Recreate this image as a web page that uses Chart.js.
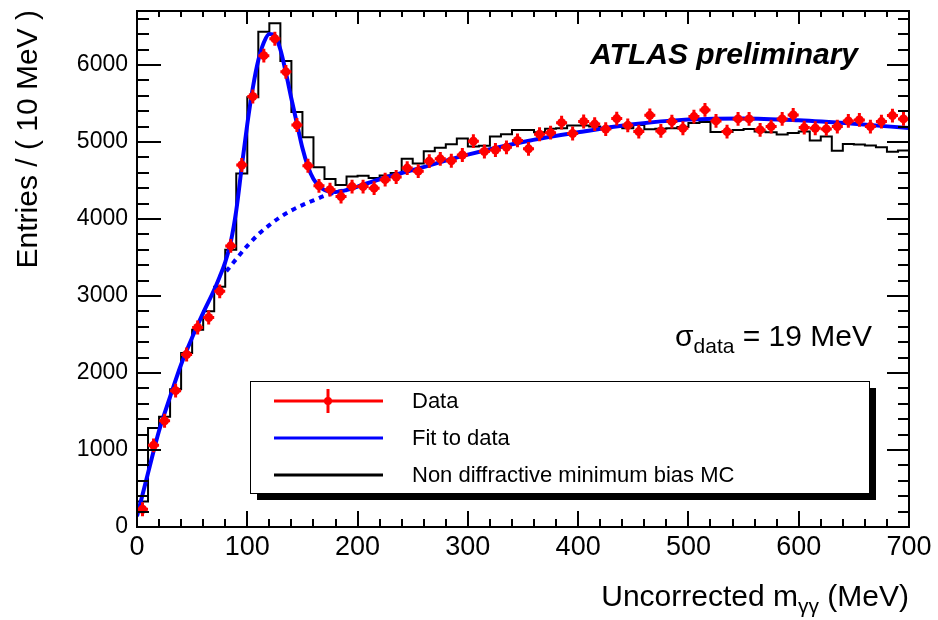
<!DOCTYPE html>
<html><head><meta charset="utf-8">
<script src="https://cdn.jsdelivr.net/npm/chart.js@4/dist/chart.umd.min.js"></script>
<style>html,body{margin:0;padding:0;background:#fff;}#wrap{width:938px;height:620px;}</style>
</head><body><div id="wrap"><canvas id="c" width="938" height="620"></canvas></div>
<script>
// ---------- DATA ----------
const binCenters = [5,15,25,35,45,55,65,75,85,95,105,115,125,135,145,155,165,175,185,195,
  205,215,225,235,245,255,265,275,285,295,305,315,325,335,345,355,365,375,385,395,
  405,415,425,435,445,455,465,475,485,495,505,515,525,535,545,555,565,575,585,595,
  605,615,625,635,645,655,665,675,685,695];
const binHalfWidth = 5;
const dataCounts = [230,1060,1380,1770,2240,2590,2720,3060,3650,4700,5590,6120,6340,5910,5220,4690,4430,4380,4290,4420,
  4420,4400,4510,4545,4660,4620,4750,4780,4755,4830,5010,4875,4895,4930,5020,4910,5100,5120,5250,5110,
  5265,5232,5167,5303,5215,5134,5345,5143,5264,5178,5329,5416,5273,5134,5299,5299,5156,5199,5299,5351,
  5186,5178,5169,5199,5273,5286,5199,5264,5342,5299];
const dataErrY = 90;
const mcCounts = [330,1285,1430,1790,2260,2560,2800,3120,3600,4590,5580,6430,6540,6050,5390,5060,4670,4520,4440,4550,
  4560,4530,4565,4595,4780,4720,4880,4925,4970,5045,4940,4950,5070,5100,5155,5155,5125,5170,5178,5212,
  5212,5199,5178,5199,5178,5221,5165,5170,5178,5195,5245,5258,5130,5130,5155,5167,5135,5126,5095,5117,
  5134,5020,5069,4885,4972,4965,4955,4932,4874,4890];
const fitMass   = [0,5,10,20,30,40,50,60,70,75,80,85,90,95,100,105,110,115,120,125,130,135,140,145,150,155,160,165,170,180,190,200,220,250,300,350,400,450,500,550,600,650,700];
const fitValues = [140,420,700,1250,1690,2110,2460,2780,3080,3250,3440,3700,4110,4680,5230,5700,6060,6290,6400,6380,6200,5900,5560,5240,4920,4680,4520,4430,4375,4350,4375,4420,4515,4635,4835,5000,5125,5230,5290,5305,5280,5235,5180];
const bkgMass   = [81,90,100,110,120,130,140,150,160,170,180,190];
const bkgValues = [3320,3480,3650,3800,3920,4025,4110,4180,4240,4300,4345,4375];
const xTickValues = [0,100,200,300,400,500,600,700];
const yTickValues = [0,1000,2000,3000,4000,5000,6000];
const xMinorStep = 20, yMinorStep = 200;
const xRange = [0,700], yRange = [0,6700];

// ---------- BUILD ----------
const dataPts = binCenters.map((m,i)=>({x:m, y:dataCounts[i]}));
const mcPts = binCenters.map((m,i)=>({x:m-binHalfWidth, y:mcCounts[i]}));
mcPts.push({x:binCenters[binCenters.length-1]+binHalfWidth, y:mcCounts[mcCounts.length-1]});
const fitPts = fitMass.map((m,i)=>({x:m, y:fitValues[i]}));
const bkgPts = bkgMass.map((m,i)=>({x:m, y:bkgValues[i]}));

const FONT = "'Liberation Sans', Arial, Helvetica, sans-serif";

function drawRuns(ctx, parts, x, y, align){
  let total = 0;
  parts.forEach(p=>{ ctx.font = p.font; total += ctx.measureText(p.t).width; });
  let cx = align==='right' ? x-total : x;
  ctx.textAlign = 'left'; ctx.textBaseline = 'alphabetic';
  parts.forEach(p=>{ ctx.font = p.font; ctx.fillText(p.t, cx, y+(p.dy||0)); cx += ctx.measureText(p.t).width; });
}

const errorBars = {
  id:'errorBars',
  afterDatasetsDraw(chart){
    const {ctx, chartArea:a, scales:{x,y}} = chart;
    ctx.save();
    ctx.beginPath(); ctx.rect(a.left,a.top,a.right-a.left,a.bottom-a.top); ctx.clip();
    ctx.strokeStyle='#ff0000'; ctx.lineWidth=3;
    binCenters.forEach((m,i)=>{
      const v = dataCounts[i];
      const px = x.getPixelForValue(m), py = y.getPixelForValue(v);
      ctx.beginPath();
      ctx.moveTo(x.getPixelForValue(m-binHalfWidth), py);
      ctx.lineTo(x.getPixelForValue(m+binHalfWidth), py);
      ctx.moveTo(px, y.getPixelForValue(v-dataErrY));
      ctx.lineTo(px, y.getPixelForValue(v+dataErrY));
      ctx.stroke();
    });
    ctx.restore();
  }
};

const decor = {
  id:'decor',
  afterDraw(chart){
    const {ctx, chartArea:a, scales:{x,y}} = chart;
    ctx.save();
    ctx.strokeStyle='#000'; ctx.lineWidth=2;
    ctx.strokeRect(a.left, a.top, a.right-a.left, a.bottom-a.top);
    ctx.beginPath();
    for(let v=xRange[0]; v<=xRange[1]; v+=xMinorStep){
      const px = Math.round(x.getPixelForValue(v));
      const major = xTickValues.includes(v);
      ctx.moveTo(px, a.bottom); ctx.lineTo(px, a.bottom-(major?16:8));
      ctx.moveTo(px, a.top); ctx.lineTo(px, a.top+(major?13:6));
    }
    for(let v=yRange[0]; v<=yRange[1]; v+=yMinorStep){
      const py = Math.round(y.getPixelForValue(v));
      const major = yTickValues.includes(v);
      ctx.moveTo(a.left, py); ctx.lineTo(a.left+(major?24:12), py);
      ctx.moveTo(a.right, py); ctx.lineTo(a.right-(major?22:11), py);
    }
    ctx.stroke();

    ctx.fillStyle='#000';
    drawRuns(ctx, [
      {t:'Uncorrected m', font:`30px ${FONT}`},
      {t:'\u03B3\u03B3', font:`21px ${FONT}`, dy:7},
      {t:' (MeV)', font:`30px ${FONT}`}
    ], a.right, 606, 'right');
    ctx.save();
    ctx.translate(37, 10); ctx.rotate(-Math.PI/2);
    ctx.font = `30px ${FONT}`; ctx.textAlign='right'; ctx.textBaseline='alphabetic';
    ctx.fillText('Entries / ( 10 MeV )', 0, 0);
    ctx.restore();
    drawRuns(ctx, [{t:'ATLAS preliminary', font:`italic bold 30px ${FONT}`}], 858, 64, 'right');
    drawRuns(ctx, [
      {t:'\u03C3', font:`30px ${FONT}`},
      {t:'data', font:`21px ${FONT}`, dy:7},
      {t:' = 19 MeV', font:`30px ${FONT}`}
    ], 872, 346, 'right');

    const L=250, T=381, R=869, B=493;
    ctx.fillStyle='#000'; ctx.fillRect(L+7, T+7, R-L, B-T);
    ctx.fillStyle='#fff'; ctx.fillRect(L, T, R-L, B-T);
    ctx.strokeStyle='#000'; ctx.lineWidth=1; ctx.strokeRect(L+0.5, T+0.5, R-L, B-T);
    const ds = chart.data.datasets;
    const rows = [
      {label:ds[0].label, color:'#ff0000', w:3, y:401, marker:true},
      {label:ds[1].label, color:'#0000ff', w:3, y:438},
      {label:ds[3].label, color:'#000000', w:3, y:475}
    ];
    rows.forEach(r=>{
      ctx.strokeStyle=r.color; ctx.lineWidth=r.w;
      ctx.beginPath(); ctx.moveTo(274, r.y); ctx.lineTo(383, r.y); ctx.stroke();
      if(r.marker){
        ctx.beginPath(); ctx.moveTo(328, r.y-12); ctx.lineTo(328, r.y+12); ctx.stroke();
        ctx.fillStyle=r.color; ctx.beginPath(); ctx.arc(328, r.y, 4, 0, Math.PI*2); ctx.fill();
      }
      ctx.fillStyle='#000'; ctx.font=`22px ${FONT}`; ctx.textAlign='left'; ctx.textBaseline='middle';
      ctx.fillText(r.label, 412, r.y+1);
    });
    ctx.restore();
  }
};

new Chart(document.getElementById('c'), {
  type:'scatter',
  data:{datasets:[
    {label:'Data', data:dataPts, showLine:false, pointRadius:4.5, pointHoverRadius:4.5,
     pointBackgroundColor:'#ff0000', pointBorderWidth:0, order:0},
    {label:'Fit to data', type:'line', data:fitPts, borderColor:'#0000ff', borderWidth:4,
     pointRadius:0, cubicInterpolationMode:'monotone', fill:false, order:1},
    {label:'Background', type:'line', data:bkgPts, borderColor:'#0000ff', borderWidth:4,
     borderDash:[5,5], pointRadius:0, cubicInterpolationMode:'monotone', fill:false, order:2},
    {label:'Non diffractive minimum bias MC', type:'line', data:mcPts, borderColor:'#000000',
     borderWidth:2, stepped:true, pointRadius:0, fill:false, order:3}
  ]},
  options:{
    responsive:false, animation:false, devicePixelRatio:1,
    layout:{padding:{top:11, right:29, left:0, bottom:0}},
    plugins:{legend:{display:false}, tooltip:{enabled:false}},
    scales:{
      x:{type:'linear', min:xRange[0], max:xRange[1],
        afterBuildTicks:s=>{ s.ticks = xTickValues.map(v=>({value:v})); },
        afterFit:s=>{ s.height = 93; s.paddingLeft = 0; s.paddingRight = 0; },
        grid:{display:false, drawTicks:false}, border:{display:false},
        ticks:{autoSkip:false, maxRotation:0, padding:4, color:'#000',
          font:{family:FONT, size:27}, callback:v=>String(v)}},
      y:{type:'linear', min:yRange[0], max:yRange[1],
        afterBuildTicks:s=>{ s.ticks = yTickValues.map(v=>({value:v})); },
        afterFit:s=>{ s.width = 137; s.paddingTop = 0; s.paddingBottom = 0; },
        grid:{display:false, drawTicks:false}, border:{display:false},
        ticks:{autoSkip:false, padding:9, color:'#000',
          font:{family:FONT, size:23}, callback:v=>String(v)}}
    }
  },
  plugins:[errorBars, decor]
});
</script>
</body></html>
